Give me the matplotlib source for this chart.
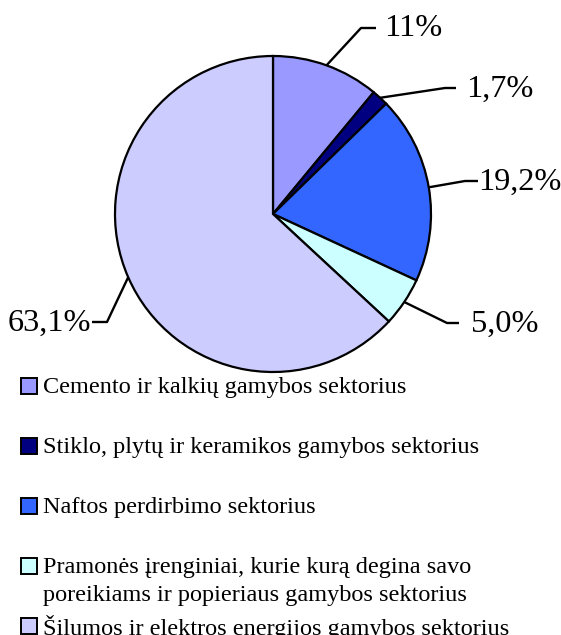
import numpy as np
import matplotlib
matplotlib.use("Agg")
import matplotlib.pyplot as plt
from matplotlib.patches import Rectangle

# sector shares, clockwise from 12 o'clock
categories = [
    "Cemento ir kalkių gamybos sektorius",
    "Stiklo, plytų ir keramikos gamybos sektorius",
    "Naftos perdirbimo sektorius",
    "Pramonės įrenginiai, kurie kurą degina savo\nporeikiams ir popieriaus gamybos sektorius",
    "Šilumos ir elektros energijos gamybos sektorius",
]
shares = [11.0, 1.7, 19.2, 5.0, 63.1]
pct_labels = ["11%", "1,7%", "19,2%", "5,0%", "63,1%"]
colors = ["#9999FF", "#000080", "#3366FF", "#CCFFFF", "#CCCCFF"]

W, H = 561, 635
plt.rcParams["font.family"] = ["Liberation Serif", "DejaVu Serif"]

fig = plt.figure(figsize=(W / 100, H / 100), dpi=100)
ax = fig.add_axes([0, 0, 1, 1])

# pie in pixel-like coords (y up)
cx, cy, r = 273, H - 214, 158
wedges, _ = ax.pie(shares, colors=colors, startangle=90, counterclock=False,
                   center=(cx, cy), radius=r, frame=True,
                   wedgeprops=dict(edgecolor="black", linewidth=1.6))
ax.set_xlim(0, W)
ax.set_ylim(0, H)
ax.set_aspect("equal")
ax.axis("off")

# leader elbows / ends (pixels from top-left) and text anchors
elbows = [(361, 28), (445, 88), (465, 181), (447, 323), (107, 322)]
ends = [(376, 28), (456, 88), (478, 181), (459, 323), (92, 322)]
sides = ["left", "left", "left", "left", "right"]
text_x = [384, 466, 478, 471, 91]

for w, lab, el, en, side, tx in zip(wedges, pct_labels, elbows, ends, sides, text_x):
    ang = np.deg2rad((w.theta1 + w.theta2) / 2)
    sx, sy = cx + r * np.cos(ang), cy + r * np.sin(ang)
    ax.plot([sx, el[0], en[0]], [sy, H - el[1], H - en[1]],
            color="black", lw=1.7, solid_capstyle="butt")
    ax.text(tx, H - el[1] - 1, lab, ha=side, va="center", fontsize=23.3)

# legend drawn by hand to match the layout
rows_y = [386, 446, 506, 566, 626]
for c, lab, yy in zip(colors, categories, rows_y):
    ax.add_patch(Rectangle((21, H - yy - 8), 16, 16, facecolor=c,
                           edgecolor="black", lw=1.4))
    for k, line in enumerate(lab.split("\n")):
        ax.text(43, H - yy - 1 - 29 * k, line, ha="left", va="center",
                fontsize=17.5)

fig.savefig("out.png", dpi=100)
